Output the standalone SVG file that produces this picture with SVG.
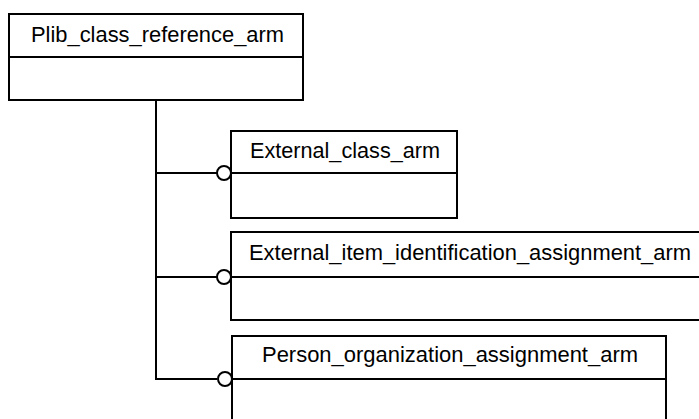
<svg xmlns="http://www.w3.org/2000/svg" width="699" height="419" viewBox="0 0 699 419">
<style>
.box{fill:#fff;stroke:#000;stroke-width:2}
.div{stroke:#000;stroke-width:2}
.lbl{font-family:"Liberation Sans",Arial,sans-serif;font-size:21.5px;fill:#000}
.con{fill:none;stroke:#000;stroke-width:2}
.end{fill:#fff;stroke:#000;stroke-width:2}
</style>
<rect width="699" height="419" fill="#fff"/>
<g id="connectors">
<path class="con" d="M156 100 V379 H217"/>
<path class="con" d="M156 173 H217"/>
<path class="con" d="M156 277 H217"/>
</g>
<g id="plib_class_reference_arm">
<rect class="box" x="9" y="14" width="294" height="86"/>
<line class="div" x1="9" y1="57" x2="303" y2="57"/>
<text class="lbl" x="31" y="42" textLength="253" lengthAdjust="spacingAndGlyphs">Plib_class_reference_arm</text>
</g>
<g id="external_class_arm">
<rect class="box" x="231" y="131" width="226" height="87"/>
<line class="div" x1="231" y1="173" x2="457" y2="173"/>
<text class="lbl" x="250" y="158" textLength="190" lengthAdjust="spacingAndGlyphs">External_class_arm</text>
</g>
<g id="external_item_identification_assignment_arm">
<rect class="box" x="231" y="232" width="480" height="88"/>
<line class="div" x1="231" y1="277" x2="711" y2="277"/>
<text class="lbl" x="249" y="260" textLength="442" lengthAdjust="spacingAndGlyphs">External_item_identification_assignment_arm</text>
</g>
<g id="person_organization_assignment_arm">
<rect class="box" x="232" y="336" width="434" height="100"/>
<line class="div" x1="232" y1="379" x2="666" y2="379"/>
<text class="lbl" x="262" y="362" textLength="376" lengthAdjust="spacingAndGlyphs">Person_organization_assignment_arm</text>
</g>
<g id="connector_ends">
<circle class="end" cx="224" cy="173" r="7"/>
<circle class="end" cx="224" cy="277" r="7"/>
<circle class="end" cx="225" cy="379" r="7"/>
</g>
</svg>
